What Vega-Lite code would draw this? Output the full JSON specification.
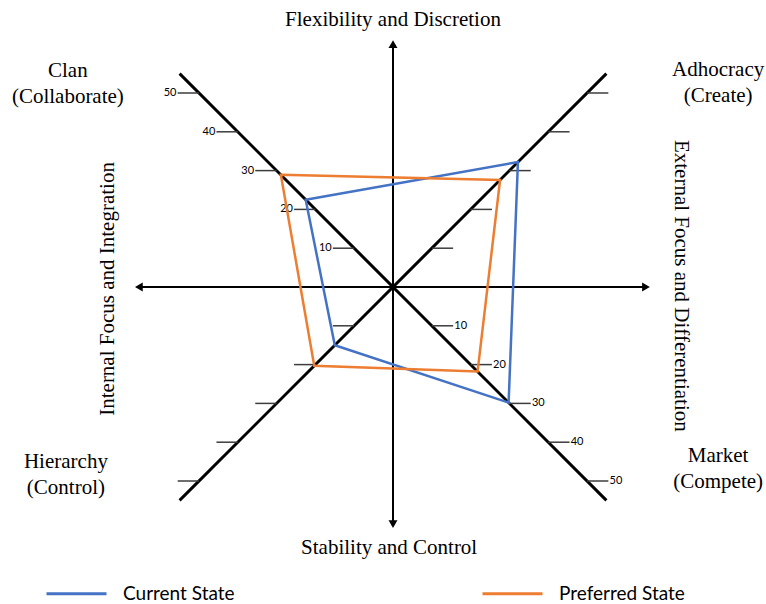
{
  "$schema": "https://vega.github.io/schema/vega-lite/v6.json",
  "width": 766,
  "height": 604,
  "padding": 0,
  "autosize": {"type": "none"},
  "background": "white",
  "config": {"view": {"stroke": null}},
  "data": {"values": [{}]},
  "datasets": {
    "scores": [
      {"state": "Current State", "quadrant": "Clan", "value": 22.5},
      {"state": "Current State", "quadrant": "Adhocracy", "value": 32.2},
      {"state": "Current State", "quadrant": "Market", "value": 29.8},
      {"state": "Current State", "quadrant": "Hierarchy", "value": 15},
      {"state": "Preferred State", "quadrant": "Clan", "value": 28.9},
      {"state": "Preferred State", "quadrant": "Adhocracy", "value": 27.6},
      {"state": "Preferred State", "quadrant": "Market", "value": 21.8},
      {"state": "Preferred State", "quadrant": "Hierarchy", "value": 20.3}
    ],
    "ticks": [
      {"quadrant": "Clan", "value": 10}, {"quadrant": "Clan", "value": 20}, {"quadrant": "Clan", "value": 30}, {"quadrant": "Clan", "value": 40}, {"quadrant": "Clan", "value": 50},
      {"quadrant": "Adhocracy", "value": 10}, {"quadrant": "Adhocracy", "value": 20}, {"quadrant": "Adhocracy", "value": 30}, {"quadrant": "Adhocracy", "value": 40}, {"quadrant": "Adhocracy", "value": 50},
      {"quadrant": "Market", "value": 10}, {"quadrant": "Market", "value": 20}, {"quadrant": "Market", "value": 30}, {"quadrant": "Market", "value": 40}, {"quadrant": "Market", "value": 50},
      {"quadrant": "Hierarchy", "value": 10}, {"quadrant": "Hierarchy", "value": 20}, {"quadrant": "Hierarchy", "value": 30}, {"quadrant": "Hierarchy", "value": 40}, {"quadrant": "Hierarchy", "value": 50}
    ]
  },
  "layer": [
    {
      "mark": {"type": "rule", "color": "black", "strokeWidth": 2},
      "encoding": {
        "x": {"datum": -65.5, "type": "quantitative", "scale": {"domain": [-101.289, 96.134], "nice": false, "zero": false}, "axis": null},
        "x2": {"datum": 65.2},
        "y": {"datum": 0, "type": "quantitative", "scale": {"domain": [-81.701, 73.969], "nice": false, "zero": false}, "axis": null}
      }
    },
    {
      "mark": {"type": "rule", "color": "black", "strokeWidth": 2},
      "encoding": {
        "x": {"datum": 0, "type": "quantitative", "scale": {"domain": [-101.289, 96.134], "nice": false, "zero": false}, "axis": null},
        "y": {"datum": -61.1, "type": "quantitative", "scale": {"domain": [-81.701, 73.969], "nice": false, "zero": false}, "axis": null},
        "y2": {"datum": 62.6}
      }
    },
    {
      "mark": {"type": "rule", "color": "black", "strokeWidth": 3},
      "encoding": {
        "x": {"datum": -55, "type": "quantitative", "scale": {"domain": [-101.289, 96.134], "nice": false, "zero": false}, "axis": null},
        "x2": {"datum": 55},
        "y": {"datum": 55, "type": "quantitative", "scale": {"domain": [-81.701, 73.969], "nice": false, "zero": false}, "axis": null},
        "y2": {"datum": -55}
      }
    },
    {
      "mark": {"type": "rule", "color": "black", "strokeWidth": 3},
      "encoding": {
        "x": {"datum": -55, "type": "quantitative", "scale": {"domain": [-101.289, 96.134], "nice": false, "zero": false}, "axis": null},
        "x2": {"datum": 55},
        "y": {"datum": -55, "type": "quantitative", "scale": {"domain": [-81.701, 73.969], "nice": false, "zero": false}, "axis": null},
        "y2": {"datum": 55}
      }
    },
    {
      "mark": {"type": "point", "shape": "triangle-left", "filled": true, "color": "black", "size": 80, "opacity": 1},
      "encoding": {
        "x": {"datum": -65.5, "type": "quantitative", "scale": {"domain": [-101.289, 96.134], "nice": false, "zero": false}, "axis": null},
        "y": {"datum": 0, "type": "quantitative", "scale": {"domain": [-81.701, 73.969], "nice": false, "zero": false}, "axis": null}
      }
    },
    {
      "mark": {"type": "point", "shape": "triangle-right", "filled": true, "color": "black", "size": 80, "opacity": 1},
      "encoding": {
        "x": {"datum": 65.2, "type": "quantitative", "scale": {"domain": [-101.289, 96.134], "nice": false, "zero": false}, "axis": null},
        "y": {"datum": 0, "type": "quantitative", "scale": {"domain": [-81.701, 73.969], "nice": false, "zero": false}, "axis": null}
      }
    },
    {
      "mark": {"type": "point", "shape": "triangle-up", "filled": true, "color": "black", "size": 80, "opacity": 1},
      "encoding": {
        "x": {"datum": 0, "type": "quantitative", "scale": {"domain": [-101.289, 96.134], "nice": false, "zero": false}, "axis": null},
        "y": {"datum": 62.6, "type": "quantitative", "scale": {"domain": [-81.701, 73.969], "nice": false, "zero": false}, "axis": null}
      }
    },
    {
      "mark": {"type": "point", "shape": "triangle-down", "filled": true, "color": "black", "size": 80, "opacity": 1},
      "encoding": {
        "x": {"datum": 0, "type": "quantitative", "scale": {"domain": [-101.289, 96.134], "nice": false, "zero": false}, "axis": null},
        "y": {"datum": -61.1, "type": "quantitative", "scale": {"domain": [-81.701, 73.969], "nice": false, "zero": false}, "axis": null}
      }
    },
    {
      "data": {"name": "ticks"},
      "transform": [
        {"calculate": "indexof(['Adhocracy','Market'], datum.quadrant) >= 0 ? 1 : -1", "as": "sx"},
        {"calculate": "indexof(['Clan','Adhocracy'], datum.quadrant) >= 0 ? 1 : -1", "as": "sy"},
        {"calculate": "datum.sx * datum.value", "as": "px"},
        {"calculate": "datum.sy * datum.value", "as": "py"},
        {"calculate": "datum.px + datum.sx * 5.5", "as": "pxt"}
      ],
      "mark": {"type": "rule", "color": "#3c3c3c", "strokeWidth": 1.5},
      "encoding": {
        "x": {"field": "px", "type": "quantitative", "scale": {"domain": [-101.289, 96.134], "nice": false, "zero": false}, "axis": null},
        "x2": {"field": "pxt"},
        "y": {"field": "py", "type": "quantitative", "scale": {"domain": [-81.701, 73.969], "nice": false, "zero": false}, "axis": null}
      }
    },
    {
      "data": {"name": "ticks"},
      "transform": [
        {"filter": "datum.quadrant === 'Clan'"},
        {"calculate": "-datum.value - 5.8", "as": "px"},
        {"calculate": "datum.value", "as": "py"}
      ],
      "mark": {"type": "text", "align": "right", "baseline": "middle", "font": "Lato", "fontSize": 11, "color": "black"},
      "encoding": {
        "x": {"field": "px", "type": "quantitative", "scale": {"domain": [-101.289, 96.134], "nice": false, "zero": false}, "axis": null},
        "y": {"field": "py", "type": "quantitative", "scale": {"domain": [-81.701, 73.969], "nice": false, "zero": false}, "axis": null},
        "text": {"field": "value", "type": "quantitative"}
      }
    },
    {
      "data": {"name": "ticks"},
      "transform": [
        {"filter": "datum.quadrant === 'Market'"},
        {"calculate": "datum.value + 5.8", "as": "px"},
        {"calculate": "-datum.value", "as": "py"}
      ],
      "mark": {"type": "text", "align": "left", "baseline": "middle", "font": "Lato", "fontSize": 11, "color": "black"},
      "encoding": {
        "x": {"field": "px", "type": "quantitative", "scale": {"domain": [-101.289, 96.134], "nice": false, "zero": false}, "axis": null},
        "y": {"field": "py", "type": "quantitative", "scale": {"domain": [-81.701, 73.969], "nice": false, "zero": false}, "axis": null},
        "text": {"field": "value", "type": "quantitative"}
      }
    },
    {
      "data": {"name": "scores"},
      "transform": [
        {"calculate": "indexof(['Adhocracy','Market'], datum.quadrant) >= 0 ? 1 : -1", "as": "sx"},
        {"calculate": "indexof(['Clan','Adhocracy'], datum.quadrant) >= 0 ? 1 : -1", "as": "sy"},
        {"calculate": "datum.sx * datum.value", "as": "px"},
        {"calculate": "datum.sy * datum.value", "as": "py"},
        {"calculate": "indexof(['Clan','Adhocracy','Market','Hierarchy'], datum.quadrant)", "as": "ord"}
      ],
      "mark": {"type": "line", "interpolate": "linear-closed", "strokeWidth": 2.5},
      "encoding": {
        "x": {"field": "px", "type": "quantitative", "scale": {"domain": [-101.289, 96.134], "nice": false, "zero": false}, "axis": null},
        "y": {"field": "py", "type": "quantitative", "scale": {"domain": [-81.701, 73.969], "nice": false, "zero": false}, "axis": null},
        "order": {"field": "ord", "type": "quantitative"},
        "color": {
          "field": "state",
          "type": "nominal",
          "scale": {"domain": ["Current State", "Preferred State"], "range": ["#4472C4", "#ED7D31"]},
          "legend": {
            "title": null,
            "orient": "none",
            "legendX": 45,
            "legendY": 562,
            "direction": "horizontal",
            "symbolType": "stroke",
            "symbolSize": 3600,
            "symbolStrokeWidth": 3,
            "labelFont": "Lato",
            "labelFontSize": 19,
            "labelColor": "black",
            "labelOffset": 15,
            "columnPadding": 241
          }
        }
      }
    },
    {
      "mark": {"type": "text", "text": "Flexibility and Discretion", "font": "Liberation Serif", "fontSize": 21, "align": "center", "baseline": "middle", "color": "black"},
      "encoding": {
        "x": {"datum": 0, "type": "quantitative", "scale": {"domain": [-101.289, 96.134], "nice": false, "zero": false}, "axis": null},
        "y": {"datum": 68.8, "type": "quantitative", "scale": {"domain": [-81.701, 73.969], "nice": false, "zero": false}, "axis": null}
      }
    },
    {
      "mark": {"type": "text", "text": "Stability and Control", "font": "Liberation Serif", "fontSize": 21, "align": "center", "baseline": "middle", "color": "black"},
      "encoding": {
        "x": {"datum": -1.0, "type": "quantitative", "scale": {"domain": [-101.289, 96.134], "nice": false, "zero": false}, "axis": null},
        "y": {"datum": -67.3, "type": "quantitative", "scale": {"domain": [-81.701, 73.969], "nice": false, "zero": false}, "axis": null}
      }
    },
    {
      "mark": {"type": "text", "text": ["Clan", "(Collaborate)"], "lineHeight": 26, "font": "Liberation Serif", "fontSize": 21, "align": "center", "baseline": "middle", "color": "black"},
      "encoding": {
        "x": {"datum": -83.8, "type": "quantitative", "scale": {"domain": [-101.289, 96.134], "nice": false, "zero": false}, "axis": null},
        "y": {"datum": 55.7, "type": "quantitative", "scale": {"domain": [-81.701, 73.969], "nice": false, "zero": false}, "axis": null}
      }
    },
    {
      "mark": {"type": "text", "text": ["Adhocracy", "(Create)"], "lineHeight": 26, "font": "Liberation Serif", "fontSize": 21, "align": "center", "baseline": "middle", "color": "black"},
      "encoding": {
        "x": {"datum": 83.8, "type": "quantitative", "scale": {"domain": [-101.289, 96.134], "nice": false, "zero": false}, "axis": null},
        "y": {"datum": 55.9, "type": "quantitative", "scale": {"domain": [-81.701, 73.969], "nice": false, "zero": false}, "axis": null}
      }
    },
    {
      "mark": {"type": "text", "text": ["Hierarchy", "(Control)"], "lineHeight": 26, "font": "Liberation Serif", "fontSize": 21, "align": "center", "baseline": "middle", "color": "black"},
      "encoding": {
        "x": {"datum": -84.3, "type": "quantitative", "scale": {"domain": [-101.289, 96.134], "nice": false, "zero": false}, "axis": null},
        "y": {"datum": -45.1, "type": "quantitative", "scale": {"domain": [-81.701, 73.969], "nice": false, "zero": false}, "axis": null}
      }
    },
    {
      "mark": {"type": "text", "text": ["Market", "(Compete)"], "lineHeight": 26, "font": "Liberation Serif", "fontSize": 21, "align": "center", "baseline": "middle", "color": "black"},
      "encoding": {
        "x": {"datum": 83.8, "type": "quantitative", "scale": {"domain": [-101.289, 96.134], "nice": false, "zero": false}, "axis": null},
        "y": {"datum": -43.6, "type": "quantitative", "scale": {"domain": [-81.701, 73.969], "nice": false, "zero": false}, "axis": null}
      }
    },
    {
      "mark": {"type": "text", "text": "Internal Focus and Integration", "angle": 270, "font": "Liberation Serif", "fontSize": 21, "align": "center", "baseline": "middle", "color": "black"},
      "encoding": {
        "x": {"datum": -73.5, "type": "quantitative", "scale": {"domain": [-101.289, 96.134], "nice": false, "zero": false}, "axis": null},
        "y": {"datum": -0.5, "type": "quantitative", "scale": {"domain": [-81.701, 73.969], "nice": false, "zero": false}, "axis": null}
      }
    },
    {
      "mark": {"type": "text", "text": "External Focus and Differentiation", "angle": 90, "font": "Liberation Serif", "fontSize": 21, "align": "center", "baseline": "middle", "color": "black"},
      "encoding": {
        "x": {"datum": 74.2, "type": "quantitative", "scale": {"domain": [-101.289, 96.134], "nice": false, "zero": false}, "axis": null},
        "y": {"datum": 0.3, "type": "quantitative", "scale": {"domain": [-81.701, 73.969], "nice": false, "zero": false}, "axis": null}
      }
    }
  ]
}
